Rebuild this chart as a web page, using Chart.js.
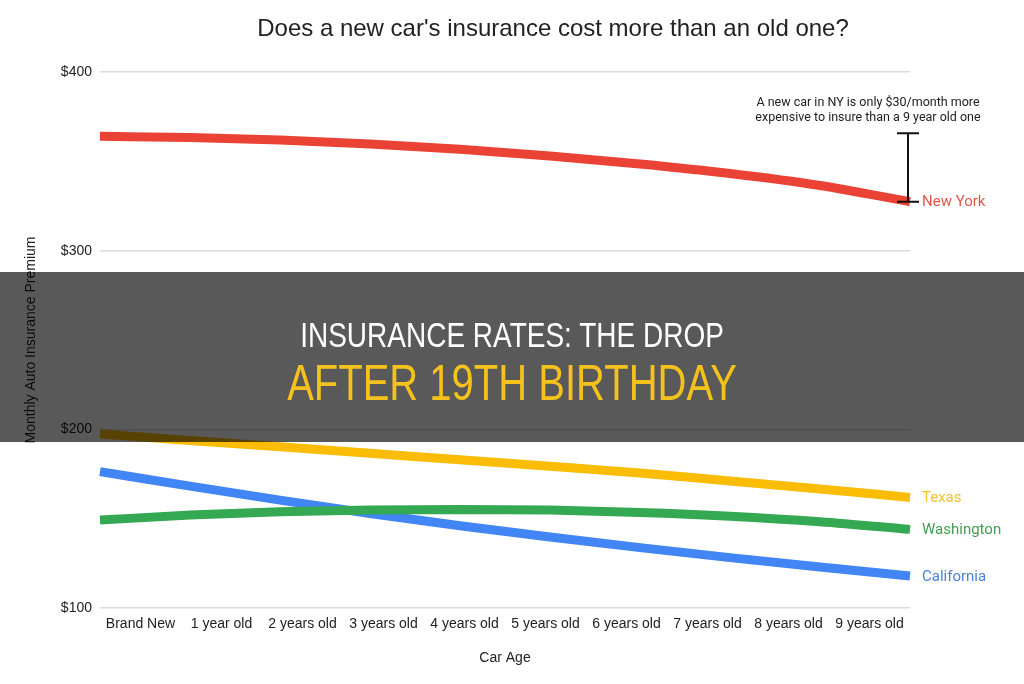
<!DOCTYPE html>
<html>
<head>
<meta charset="utf-8">
<script src="https://cdn.jsdelivr.net/npm/chart.js@4.4.1/dist/chart.umd.min.js"></script>
<style>
  body { margin: 0; background: #fff; }
  #wrap { position: relative; width: 1024px; height: 684px; }
  #title {
    position: absolute; top: 14px; left: 203px; width: 700px; text-align: center;
    font: 24px "Liberation Sans", Arial, sans-serif; color: #222;
  }
  #banner {
    position: absolute; left: 0; top: 272px; width: 1024px; height: 170px;
    background: rgba(0, 0, 0, 0.65); text-align: center;
    font-family: "Liberation Sans", Arial, sans-serif;
  }
  #banner div { position: absolute; left: 0; right: 0; transform: scaleX(0.8); transform-origin: 512px 0; }
  #banner .l1 { top: 43px; font-size: 35px; color: #fff; }
  #banner .l2 { top: 82px; font-size: 50px; color: #F4C21B; }
</style>
</head>
<body>
<div id="wrap">
  <canvas id="myLineChart" width="1024" height="684"></canvas>
  <div id="title">Does a new car's insurance cost more than an old one?</div>
  <div id="banner">
    <div class="l1">INSURANCE RATES: THE DROP</div>
    <div class="l2">AFTER 19TH BIRTHDAY</div>
  </div>
</div>
<script>
const carAges = ['Brand New', '1 year old', '2 years old', '3 years old', '4 years old',
  '5 years old', '6 years old', '7 years old', '8 years old', '9 years old'];

const newYork    = [364.0, 363.3, 361.9, 359.7, 356.8, 353.0, 348.5, 343.2, 336.5, 327.4];
const texas      = [197.4, 193.8, 190.2, 186.6, 183.0, 179.3, 175.5, 171.1, 166.6, 161.9];
const washington = [149.2, 152.0, 153.9, 154.9, 155.2, 154.8, 153.5, 151.4, 148.3, 144.0];
const california = [176.3, 168.2, 160.4, 152.9, 146.0, 139.7, 133.8, 128.2, 122.9, 117.9];

const yTicks = [100, 200, 300, 400];
const noteLines = ['A new car in NY is only $30/month more', 'expensive to insure than a 9 year old one'];

// 선 끝 라벨
const endLabels = {
  id: 'endLabels',
  afterDatasetsDraw(chart) {
    const ctx = chart.ctx;
    ctx.save();
    ctx.font = '15px Roboto, "Noto Sans", sans-serif';
    ctx.textBaseline = 'middle';
    ctx.textAlign = 'left';
    chart.data.datasets.forEach((ds, i) => {
      const pts = chart.getDatasetMeta(i).data;
      const last = pts[pts.length - 1];
      ctx.fillStyle = ds.labelColor;
      ctx.fillText(ds.label, last.x + 12, last.y + 1);
    });
    ctx.restore();
  }
};

// 뉴욕 차이 표시
const nyNote = {
  id: 'nyNote',
  afterDatasetsDraw(chart) {
    const ctx = chart.ctx;
    const xs = chart.scales.x, ys = chart.scales.y;
    const x = xs.getPixelForValue(9) - 2;
    const yTop = ys.getPixelForValue(newYork[0]) - 3;
    const yBot = ys.getPixelForValue(newYork[9]);
    ctx.save();
    ctx.strokeStyle = '#111';
    ctx.lineWidth = 2;
    ctx.beginPath();
    ctx.moveTo(x, yTop); ctx.lineTo(x, yBot);
    ctx.moveTo(x - 11, yTop); ctx.lineTo(x + 11, yTop);
    ctx.moveTo(x - 11, yBot); ctx.lineTo(x + 11, yBot);
    ctx.stroke();
    ctx.font = '12.5px Roboto, "Noto Sans", sans-serif';
    ctx.fillStyle = '#222';
    ctx.textAlign = 'center';
    ctx.textBaseline = 'middle';
    ctx.fillText(noteLines[0], x - 40, yTop - 30);
    ctx.fillText(noteLines[1], x - 40, yTop - 15);
    ctx.restore();
  }
};

const data_line = {
  labels: carAges,
  datasets: [{
    label: 'New York', data: newYork, borderColor: '#EA4335', labelColor: '#E0574B'
  }, {
    label: 'Texas', data: texas, borderColor: '#FBBC04', labelColor: '#F2C231'
  }, {
    label: 'Washington', data: washington, borderColor: '#34A853', labelColor: '#3F9E52'
  }, {
    label: 'California', data: california, borderColor: '#4285F4', labelColor: '#4B82DB'
  }].map(d => Object.assign(d, {
    borderWidth: 9, pointRadius: 0, cubicInterpolationMode: 'monotone', borderCapStyle: 'butt', fill: false, xAxisID: 'x'
  }))
};

const options_line = {
  responsive: false,
  maintainAspectRatio: false,
  animation: false,
  layout: { padding: { top: 72, right: 114, left: 0, bottom: 0 } },
  plugins: { legend: { display: false }, tooltip: { enabled: false } },
  scales: {
    x: { type: 'category', offset: false, display: false },
    x2: {
      type: 'category', position: 'bottom', offset: true,
      grid: { display: false, drawTicks: false }, border: { display: false },
      ticks: { padding: 8, color: '#222', maxRotation: 0, autoSkip: false,
        font: { family: '"Liberation Sans", Arial, sans-serif', size: 14 } },
      title: { display: true, text: 'Car Age', color: '#222', padding: { top: 0, bottom: 17 },
        font: { family: '"Liberation Sans", Arial, sans-serif', size: 14 } },
      afterFit(scale) { scale.height = 76; }
    },
    y: {
      min: 100, max: 400,
      afterBuildTicks(scale) { scale.ticks = yTicks.map(v => ({ value: v })); },
      grid: { color: '#dcdcdc', lineWidth: 1.5, drawTicks: false }, border: { display: false },
      ticks: { padding: 8, color: '#222', callback: v => '$' + v,
        font: { family: '"Liberation Sans", Arial, sans-serif', size: 14 } },
      title: { display: true, text: 'Monthly Auto Insurance Premium', color: '#222', padding: { top: 23, bottom: 0 },
        font: { family: '"Liberation Sans", Arial, sans-serif', size: 14 } },
      afterFit(scale) { scale.width = 100; }
    }
  }
};

const ctx_line = document.getElementById('myLineChart').getContext('2d');
const myChart_line = new Chart(ctx_line, {
  type: 'line',
  data: data_line,
  options: options_line,
  plugins: [endLabels, nyNote]
});
</script>
</body>
</html>
